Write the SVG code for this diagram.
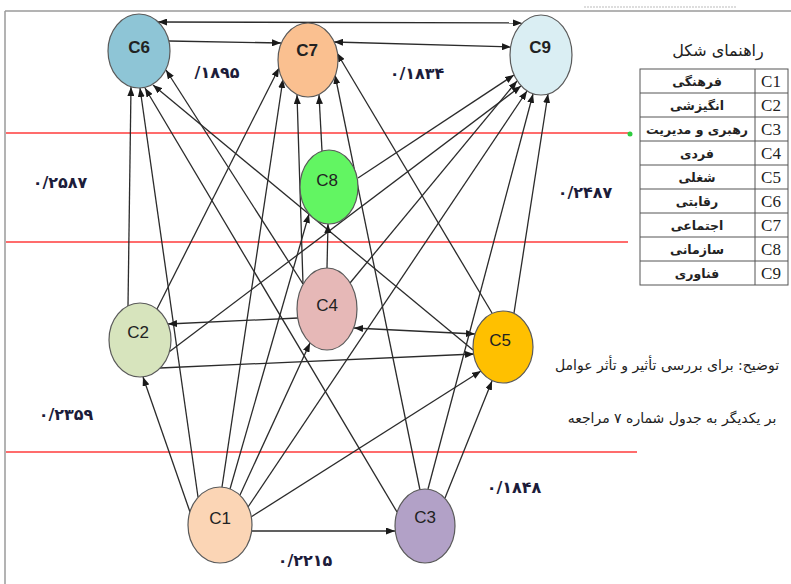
<svg xmlns="http://www.w3.org/2000/svg" width="791" height="584" viewBox="0 0 791 584">
<defs>
<style>
.e{stroke:#2b2b2b;stroke-width:1.3;fill:none;marker-end:url(#ah)}
.b{marker-start:url(#ah)}
.n{stroke:#5a5a5a;stroke-width:1.2}
.nl{font-family:"Liberation Sans",Arial,sans-serif;font-size:17px;fill:#222;text-anchor:middle}
.bd{font-weight:bold}
.num{font-family:"DejaVu Sans",sans-serif;font-size:16px;font-weight:bold;fill:#1c1c3a;text-anchor:middle}
.fa{font-family:"DejaVu Sans",sans-serif;fill:#222;text-anchor:middle;direction:rtl}
.cl{font-family:"Liberation Serif","Times New Roman",serif;font-size:17px;fill:#222;text-anchor:middle}
.red{stroke:#ff3b3b;stroke-width:1.5}
.tb{stroke:#555;stroke-width:1;fill:none}
</style>
<marker id="ah" viewBox="0 0 9 7" refX="9" refY="3.5" markerWidth="9" markerHeight="7" orient="auto-start-reverse" markerUnits="userSpaceOnUse">
<path d="M0,0L9,3.5L0,7z" fill="#1a1a1a"/>
</marker>
</defs>
<rect width="791" height="584" fill="#fff"/>
<g id="frame">
<line x1="5" y1="11" x2="791" y2="11" stroke="#9a9a9a" stroke-width="1.5"/>
<line x1="5" y1="11" x2="5" y2="584" stroke="#9a9a9a" stroke-width="1.5"/>
<line x1="584" y1="7" x2="736" y2="7" stroke="#bbb" stroke-width="1" stroke-dasharray="2,1"/>
</g>
<g id="levels">
<line class="red" x1="6" y1="133" x2="630" y2="133"/>
<circle cx="630" cy="134" r="2.5" fill="#2ecc40"/>
<line class="red" x1="6" y1="242" x2="628" y2="242"/>
<line class="red" x1="6" y1="452" x2="637" y2="452"/>
</g>
<g id="connectors">
<line class="e b" x1="158" y1="22" x2="522" y2="23"/>
<line class="e" x1="169" y1="41" x2="281" y2="43"/>
<line class="e b" x1="334" y1="42" x2="511" y2="47"/>
<line class="e" x1="128" y1="306" x2="131" y2="87"/>
<line class="e" x1="198" y1="497" x2="140" y2="88"/>
<line class="e" x1="397" y1="512" x2="145" y2="88"/>
<line class="e" x1="473" y1="350" x2="153" y2="85"/>
<line class="e" x1="303" y1="284" x2="166" y2="70"/>
<line class="e" x1="157" y1="309" x2="279" y2="68"/>
<line class="e" x1="169" y1="352" x2="521" y2="86"/>
<line class="e" x1="298" y1="318" x2="168" y2="324"/>
<line class="e" x1="160" y1="368" x2="474" y2="354"/>
<line class="e b" x1="354" y1="328" x2="475" y2="334"/>
<line class="e" x1="190" y1="512" x2="143" y2="377"/>
<line class="e" x1="222" y1="487" x2="283" y2="79"/>
<line class="e" x1="230" y1="489" x2="309" y2="214"/>
<line class="e" x1="240" y1="495" x2="310" y2="343"/>
<line class="e" x1="248" y1="507" x2="527" y2="91"/>
<line class="e" x1="251" y1="517" x2="481" y2="371"/>
<line class="e" x1="252" y1="531" x2="395" y2="531"/>
<line class="e" x1="445" y1="498" x2="492" y2="381"/>
<line class="e" x1="420" y1="490" x2="335" y2="75"/>
<line class="e" x1="428" y1="489" x2="533" y2="94"/>
<line class="e" x1="492" y1="313" x2="337" y2="53"/>
<line class="e" x1="514" y1="313" x2="548" y2="94"/>
<line class="e" x1="327" y1="268" x2="328" y2="224"/>
<line class="e" x1="303" y1="284" x2="297" y2="95"/>
<line class="e" x1="350" y1="283" x2="517" y2="81"/>
<line class="e" x1="358" y1="178" x2="514" y2="75"/>
<line class="e" x1="322" y1="151" x2="319" y2="95"/>
</g>
<g id="C6"><ellipse class="n" cx="139" cy="51" rx="31" ry="37" fill="#8EC5D6"/><text class="nl bd" x="139" y="53">C6</text></g>
<g id="C7"><ellipse class="n" cx="308" cy="60" rx="30" ry="37" fill="#FAC090"/><text class="nl bd" x="307" y="56">C7</text></g>
<g id="C9"><ellipse class="n" cx="541" cy="55" rx="31" ry="40" fill="#DAEEF3"/><text class="nl bd" x="540" y="53">C9</text></g>
<g id="C8"><ellipse class="n" cx="329" cy="187" rx="29" ry="37" fill="#62F562"/><text class="nl" x="327" y="186">C8</text></g>
<g id="C4"><ellipse class="n" cx="327" cy="309" rx="30" ry="41" fill="#E6B8B7"/><text class="nl" x="327" y="311">C4</text></g>
<g id="C2"><ellipse class="n" cx="140" cy="340" rx="31" ry="37" fill="#D7E4BD"/><text class="nl" x="138" y="338">C2</text></g>
<g id="C5"><ellipse class="n" cx="503" cy="347" rx="30" ry="36" fill="#FFC000"/><text class="nl" x="500" y="346">C5</text></g>
<g id="C1"><ellipse class="n" cx="220" cy="525" rx="32" ry="38" fill="#FBD5B5"/><text class="nl" x="220" y="524">C1</text></g>
<g id="C3"><ellipse class="n" cx="425" cy="526" rx="30" ry="37" fill="#B2A1C7"/><text class="nl" x="425" y="523">C3</text></g>
<g id="values">
<text class="num" x="217" y="78">/۱۸۹۵</text>
<text class="num" x="417" y="79">۰/۱۸۳۴</text>
<text class="num" x="60" y="188">۰/۲۵۸۷</text>
<text class="num" x="585" y="198">۰/۲۴۸۷</text>
<text class="num" x="66" y="420">۰/۲۳۵۹</text>
<text class="num" x="514" y="493">۰/۱۸۴۸</text>
<text class="num" x="305" y="566">۰/۲۲۱۵</text>
</g>
<g id="legend">
<text class="fa" x="718" y="56" font-size="16">راهنمای شکل</text>
<rect class="tb" x="640" y="69" width="148" height="216"/>
<line class="tb" x1="755" y1="69" x2="755" y2="285"/>
<line class="tb" x1="640" y1="93" x2="788" y2="93"/>
<line class="tb" x1="640" y1="117" x2="788" y2="117"/>
<line class="tb" x1="640" y1="141" x2="788" y2="141"/>
<line class="tb" x1="640" y1="165" x2="788" y2="165"/>
<line class="tb" x1="640" y1="189" x2="788" y2="189"/>
<line class="tb" x1="640" y1="213" x2="788" y2="213"/>
<line class="tb" x1="640" y1="237" x2="788" y2="237"/>
<line class="tb" x1="640" y1="261" x2="788" y2="261"/>
<text class="fa" x="697" y="86" font-size="12.5" font-weight="bold">فرهنگی</text>
<text class="fa" x="697" y="110" font-size="12.5" font-weight="bold">انگیزشی</text>
<text class="fa" x="697" y="134" font-size="12.5" font-weight="bold">رهبری و مدیریت</text>
<text class="fa" x="697" y="158" font-size="12.5" font-weight="bold">فردی</text>
<text class="fa" x="697" y="182" font-size="12.5" font-weight="bold">شغلی</text>
<text class="fa" x="697" y="206" font-size="12.5" font-weight="bold">رقابتی</text>
<text class="fa" x="697" y="230" font-size="12.5" font-weight="bold">اجتماعی</text>
<text class="fa" x="697" y="254" font-size="12.5" font-weight="bold">سازمانی</text>
<text class="fa" x="697" y="278" font-size="12.5" font-weight="bold">فناوری</text>
<text class="cl" x="771" y="87">C1</text>
<text class="cl" x="771" y="111">C2</text>
<text class="cl" x="771" y="135">C3</text>
<text class="cl" x="771" y="159">C4</text>
<text class="cl" x="771" y="183">C5</text>
<text class="cl" x="771" y="207">C6</text>
<text class="cl" x="771" y="231">C7</text>
<text class="cl" x="771" y="255">C8</text>
<text class="cl" x="771" y="279">C9</text>
</g>
<g id="note">
<text class="fa" x="667" y="370" font-size="14">توضیح: برای بررسی تأثیر و تأثر عوامل</text>
<text class="fa" x="672" y="423" font-size="14">بر یکدیگر به جدول شماره ۷ مراجعه</text>
</g>
</svg>
